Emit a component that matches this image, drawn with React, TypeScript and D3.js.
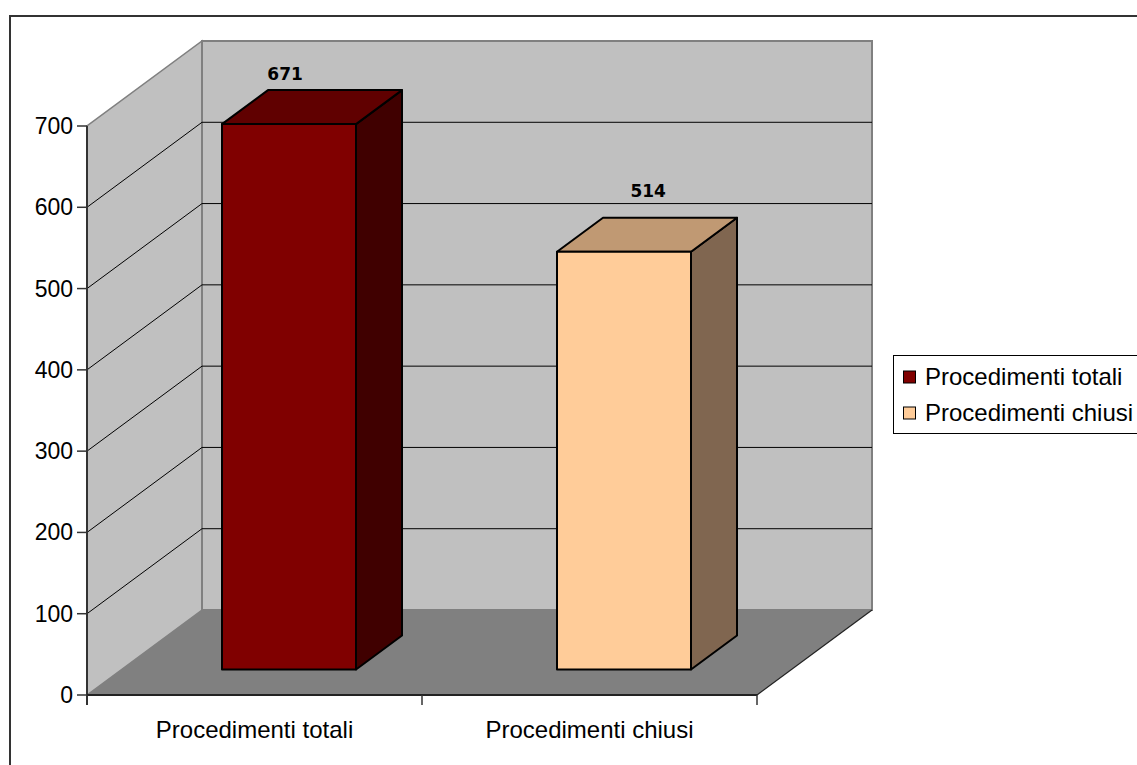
import * as d3 from "d3";
import React from "react";

const categories = ["Procedimenti totali", "Procedimenti chiusi"];
const values = [671, 514];
const yTicks = [0, 100, 200, 300, 400, 500, 600, 700];
const frontColors = ["#800000", "#FFCC99"];
const topColors = ["#600000", "#C09973"];
const sideColors = ["#400000", "#806650"];

// 3D box frame of the plot
const X0 = 87;
const Y0 = 695;
const W = 670;
const DX = 115;
const DY = 85;
const FONT = "'Liberation Sans', Arial, sans-serif";
// small perspective drift of the value labels
const VANISH_X = 336;
const PERSP = 0.084;

const pt = (x: number, y: number, z: number) => [x + z * DX, y - z * DY];
const poly = (pts: number[][]) => pts.map((p) => p.join(",")).join(" ");

export default function App() {
  const y = d3.scaleLinear().domain([0, 700]).range([Y0, 126]);
  const x = d3.scaleBand().domain(categories).range([X0, X0 + W]).padding(0);
  const bw = x.bandwidth();
  const top = y(700);

  const z1 = 0.3;
  const z2 = 0.7;

  return (
    <svg width={1137} height={765} style={{ position: "absolute", left: 0, top: 0 }}>
      <rect x={0} y={0} width={1137} height={765} fill="#fff" />
      <rect x={10} y={16} width={1140} height={760} fill="none" stroke="#333" strokeWidth={2} />

      {/* left wall */}
      <polygon points={poly([pt(X0, Y0, 0), pt(X0, top, 0), pt(X0, top, 1), pt(X0, Y0, 1)])} fill="#C0C0C0" stroke="#808080" strokeWidth={1.5} />
      {/* back wall */}
      <polygon points={poly([pt(X0, Y0, 1), pt(X0, top, 1), pt(X0 + W, top, 1), pt(X0 + W, Y0, 1)])} fill="#C0C0C0" stroke="#808080" strokeWidth={2} />
      {/* floor */}
      <polygon points={poly([pt(X0, Y0, 0), pt(X0 + W, Y0, 0), pt(X0 + W, Y0, 1), pt(X0, Y0, 1)])} fill="#808080" />
      <line x1={X0 + W} y1={Y0} x2={X0 + W + DX} y2={Y0 - DY} stroke="#222" strokeWidth={1.2} />

      {/* grid */}
      {yTicks.filter((t) => t > 0 && t < 700).map((t) => {
        const a = pt(X0, y(t), 0);
        const b = pt(X0, y(t), 1);
        const c = pt(X0 + W, y(t), 1);
        return (
          <g key={t}>
            <line x1={a[0]} y1={a[1]} x2={b[0]} y2={b[1]} stroke="#000" strokeWidth={1} />
            <line x1={b[0]} y1={b[1]} x2={c[0]} y2={c[1]} stroke="#000" strokeWidth={1} />
          </g>
        );
      })}

      {/* bars */}
      {categories.map((cat, i) => {
        const xl = (x(cat) as number) + bw * 0.3;
        const xr = xl + bw * 0.4;
        const yt = y(values[i]);
        const front = [pt(xl, Y0, z1), pt(xl, yt, z1), pt(xr, yt, z1), pt(xr, Y0, z1)];
        const topF = [pt(xl, yt, z1), pt(xl, yt, z2), pt(xr, yt, z2), pt(xr, yt, z1)];
        const side = [pt(xr, Y0, z1), pt(xr, yt, z1), pt(xr, yt, z2), pt(xr, Y0, z2)];
        const fc = pt((xl + xr) / 2, yt, z1)[0];
        const drift = PERSP * (fc - VANISH_X);
        const back = pt(xl, yt, z2);
        return (
          <g key={cat} stroke="#000" strokeWidth={2} strokeLinejoin="round">
            <polygon points={poly(side)} fill={sideColors[i]} />
            <polygon points={poly(topF)} fill={topColors[i]} />
            <polygon points={poly(front)} fill={frontColors[i]} />
            <text x={fc + drift} y={back[1] - 11.5 - drift * 0.36} textAnchor="middle" stroke="none" fill="#000"
              style={{ font: "bold 17px 'DejaVu Sans', sans-serif" }}>{values[i]}</text>
          </g>
        );
      })}

      {/* y axis */}
      <line x1={X0} y1={top} x2={X0} y2={Y0 + 10} stroke="#333" strokeWidth={2} />
      {yTicks.map((t) => (
        <g key={t}>
          <line x1={X0 - 10} y1={y(t)} x2={X0} y2={y(t)} stroke="#333" strokeWidth={1.5} />
          <text x={X0 - 14} y={y(t)} dy="0.35em" textAnchor="end" style={{ font: `23px ${FONT}` }}>{t}</text>
        </g>
      ))}

      {/* x axis */}
      <line x1={X0} y1={Y0} x2={X0 + W} y2={Y0} stroke="#222" strokeWidth={2} />
      {[X0, X0 + W / 2, X0 + W].map((v) => (
        <line key={v} x1={v} y1={Y0} x2={v} y2={Y0 + 10} stroke="#333" strokeWidth={1.5} />
      ))}
      {categories.map((cat) => (
        <text key={cat} x={(x(cat) as number) + bw / 2} y={730} dy="0.35em" textAnchor="middle" style={{ font: `24px ${FONT}` }}>{cat}</text>
      ))}

      {/* legend */}
      <rect x={893.5} y={355.5} width={260} height={78} fill="#fff" stroke="#000" strokeWidth={1} />
      {categories.map((cat, i) => (
        <g key={cat} transform={`translate(903,${377 + i * 36})`}>
          <rect x={0.5} y={-6} width={12} height={12} fill={frontColors[i]} stroke="#000" strokeWidth={1} />
          <text x={22} y={0} dy="0.35em" style={{ font: `24px ${FONT}` }}>{cat}</text>
        </g>
      ))}
    </svg>
  );
}
